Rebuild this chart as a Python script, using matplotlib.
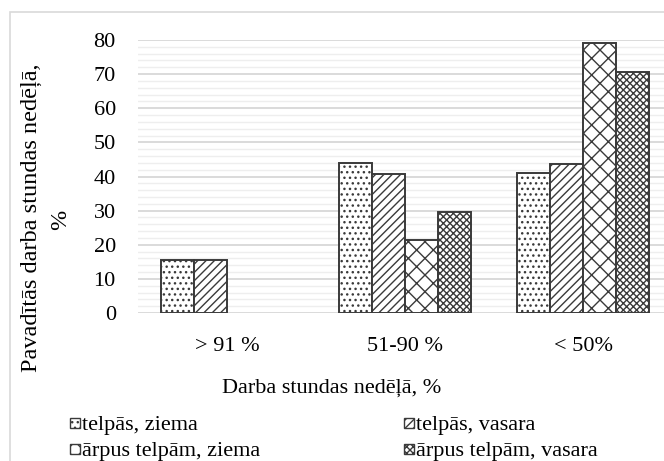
import numpy as np
import matplotlib.pyplot as plt
from matplotlib.patches import Rectangle

# kategorijas un vērtības (nolasītas no attēla)
categories = ['> 91 %', '51-90 %', '< 50%']
series_names = ['telpās, ziema', 'telpās, vasara', 'ārpus telpām, ziema', 'ārpus telpām, vasara']
indoor_winter = [15.6, 43.9, 40.9]
indoor_summer = [15.6, 40.8, 43.8]
outdoor_winter = [np.nan, 21.4, 79.0]
outdoor_summer = [np.nan, 29.7, 70.6]

hatches = ['...', '////', 'xx', 'xxxxx']

plt.rcParams['font.family'] = ['Liberation Serif', 'DejaVu Serif']
plt.rcParams['hatch.linewidth'] = 1.0
plt.rcParams['hatch.color'] = 'black'

W, H = 664, 461
fig = plt.figure(figsize=(W / 100, H / 100), dpi=100)

# ārējais rāmis
fig.patches.append(Rectangle((10 / W, -0.1), 1.2, (H - 12) / H + 0.1, transform=fig.transFigure,
                             fill=False, edgecolor='#d9d9d9', linewidth=1.2))

ax = fig.add_axes([138 / W, (H - 313) / H, 534 / W, 273 / H])

x = np.arange(len(categories))
w = 0.185
all_series = [indoor_winter, indoor_summer, outdoor_winter, outdoor_summer]
for i, vals in enumerate(all_series):
    ax.bar(x + (i - 1.5) * w, vals, width=w, color='white', edgecolor='#3a3a3a',
           hatch=hatches[i], linewidth=1.4, zorder=3)

ax.set_xlim(-0.5, 2.5)
ax.set_ylim(0, 80)
ax.set_yticks(np.arange(0, 81, 10))
ax.set_yticks(np.arange(0, 81, 2), minor=True)
ax.grid(axis='y', which='major', color='#d4d4d4', linewidth=1.2, zorder=0)
ax.grid(axis='y', which='minor', color='#eeeeee', linewidth=1.0, zorder=0)
for s in ax.spines.values():
    s.set_visible(False)
ax.tick_params(axis='both', which='both', length=0, labelsize=16)
ax.tick_params(axis='y', pad=16)
ax.tick_params(axis='x', pad=17)
ax.set_xticks(x)
ax.set_xticklabels(categories)

fig.text(332 / W, 1 - 388 / H, 'Darba stundas nedēļā, %', ha='center', va='center', fontsize=16)
fig.text(31 / W, 1 - 218 / H, 'Pavadītās darba stundas nedēļā,', rotation=90,
         ha='center', va='center', fontsize=17.5)
fig.text(61 / W, 1 - 220 / H, '%', rotation=90, ha='center', va='center', fontsize=17.5)

# leģenda (2 kolonnas, rindas pa sērijām)
leg_x = [70, 404, 70, 404]
leg_y = [423, 423, 449, 449]
for i, name in enumerate(series_names):
    fig.patches.append(Rectangle(((leg_x[i]) / W, 1 - (leg_y[i] + 5) / H), 10 / W, 10 / H,
                                 transform=fig.transFigure, facecolor='white',
                                 edgecolor='#3a3a3a', hatch=hatches[i], linewidth=1.0))
    fig.text((leg_x[i] + 12) / W, 1 - leg_y[i] / H, name, ha='left', va='center_baseline',
             fontsize=16)

fig.savefig('out.png', dpi=100)
